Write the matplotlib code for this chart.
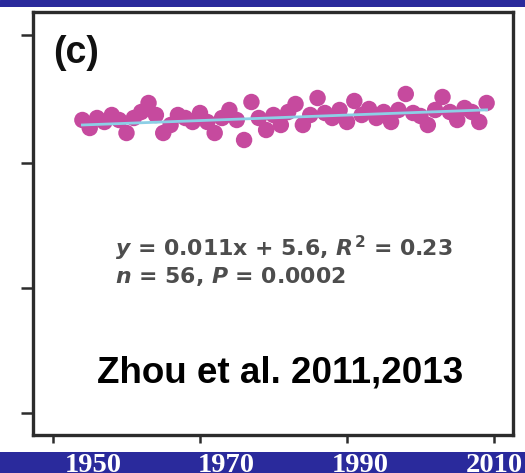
import numpy as np
import matplotlib
matplotlib.use("Agg")
import matplotlib.pyplot as plt

# Annual series, 1954-2009 (n = 56)
years = np.arange(1954, 2010)
values = np.array([
    5.81, 5.49, 5.89, 5.73, 6.01, 5.81, 5.29, 5.89, 6.13, 6.49,
    6.01, 5.29, 5.61, 6.01, 5.89, 5.73, 6.09, 5.73, 5.29, 5.89,
    6.21, 5.81, 5.01, 6.53, 5.89, 5.41, 6.01, 5.61, 6.13, 6.45,
    5.61, 6.01, 6.69, 6.09, 5.89, 6.21, 5.73, 6.57, 6.01, 6.25,
    5.89, 6.13, 5.73, 6.21, 6.85, 6.09, 5.97, 5.61, 6.21, 6.73,
    6.13, 5.81, 6.29, 6.13, 5.73, 6.49,
])

# Linear fit reported on the panel: y = slope * x + intercept, x = 1..n
slope = 0.011
intercept = 5.6
r_squared = 0.23
p_value = "0.0002"

year_ticks = [1950, 1970, 1990, 2010]
year_labels = ["1950", "1970", "1990", "2010"]
value_ticks = [9.2, 4.1, -0.9, -5.9]

panel_label = "(c)"
source_label = "Zhou et al. 2011,2013"

BLUE = "#2A2A9C"
DOT = "#C64A9E"
FIT = "#8CCFE6"
FRAME = "#2C2C2C"

plt.rcParams["mathtext.fontset"] = "custom"
plt.rcParams["mathtext.it"] = "DejaVu Sans:bold:italic"
plt.rcParams["mathtext.rm"] = "DejaVu Sans:bold"
plt.rcParams["mathtext.bf"] = "DejaVu Sans:bold"

W, H = 525, 473
fig = plt.figure(figsize=(W / 100, H / 100), dpi=100, facecolor="white")

# Blue slide band at the top
top_band = fig.add_axes([0, 1 - 7.5 / H, 1, 7.5 / H])
top_band.set_axis_off()
top_band.add_patch(plt.Rectangle((0, 0), 1, 1, color=BLUE, transform=top_band.transAxes))

ax = fig.add_axes([33 / W, 1 - 435 / H, (513 - 33) / W, (435 - 12) / H])
ax.set_facecolor("white")

idx = np.arange(1, len(years) + 1)
ax.scatter(years, values, s=140, color=DOT, edgecolors="none", zorder=2)
ax.plot(years, slope * idx + intercept, color=FIT, lw=2.0, zorder=3)

ax.set_xlim(1947.28, 2012.59)
ax.set_ylim(-6.79, 10.13)
ax.set_xticks(year_ticks)
ax.set_yticks(value_ticks)
ax.set_xticklabels([])
ax.set_yticklabels([])
ax.tick_params(axis="x", direction="out", length=6, width=1.8, color=FRAME)
ax.tick_params(axis="y", direction="out", length=9, width=1.8, color=FRAME)
for side in ["left", "right", "top", "bottom"]:
    ax.spines[side].set_linewidth(2.4)
    ax.spines[side].set_color(FRAME)

fig.text(53 / W, 1 - 53 / H, panel_label, fontsize=27, fontweight="bold",
         family="Liberation Sans", va="center", ha="left", color="#111111")

eq1 = rf"$y$ = {slope}x + {intercept}, $R^2$ = {r_squared}"
eq2 = rf"$n$ = {len(years)}, $P$ = {p_value}"
fig.text(115 / W, 1 - 256 / H, eq1, fontsize=15.8, fontweight="bold",
         family="DejaVu Sans", color="#4D4D4D", va="baseline", ha="left")
fig.text(115 / W, 1 - 283 / H, eq2, fontsize=15.8, fontweight="bold",
         family="DejaVu Sans", color="#4D4D4D", va="baseline", ha="left")

fig.text(97 / W, 1 - 382 / H, source_label, fontsize=26.5, fontweight="bold",
         family="Liberation Sans", color="black", va="baseline", ha="left")

# Bottom band carrying the year labels
band = fig.add_axes([0, 0, 1, 21 / H])
band.set_facecolor(BLUE)
px_per_year = (494 - 93) / 60
x0 = 1950 - 93 / px_per_year
band.set_xlim(x0, x0 + W / px_per_year)
band.set_ylim(0, 21)
for sp in band.spines.values():
    sp.set_visible(False)
band.set_xticks([])
band.set_yticks([])
for yr, lab in zip(year_ticks, year_labels):
    band.text(yr, 1, lab, color="white", fontsize=20.5, fontweight="bold",
              family="Liberation Serif", ha="center", va="baseline", clip_on=False)

fig.savefig("out.png", dpi=100, facecolor="white")
